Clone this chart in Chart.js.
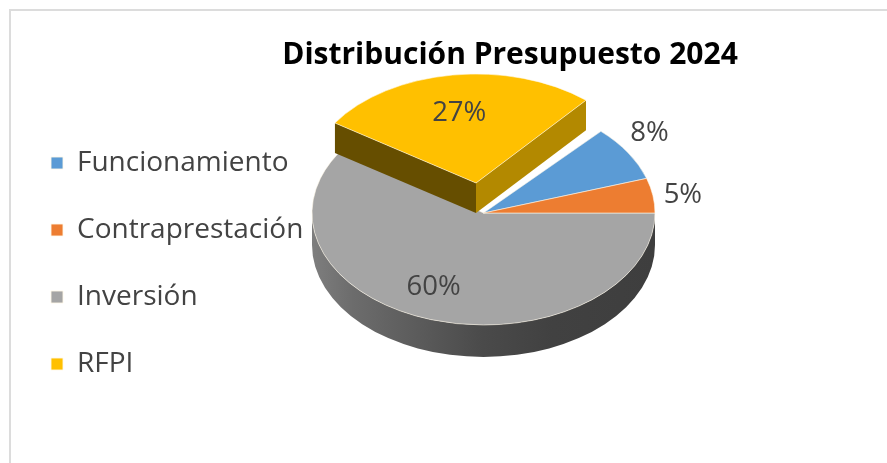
<!DOCTYPE html>
<html lang="es">
<head>
<meta charset="utf-8">
<title>Distribución Presupuesto 2024</title>
<script src="https://cdn.jsdelivr.net/npm/chart.js@4"></script>
<style>
html,body{margin:0;padding:0;background:#fff;overflow:hidden}
#frame{position:absolute;left:9px;top:9px;right:0;bottom:0;border-top:2px solid #dcdcdc;border-left:2px solid #dcdcdc}
canvas{position:absolute;left:0;top:0}
</style>
</head>
<body>
<div id="frame"></div>
<canvas id="c" width="887" height="463"></canvas>
<script>
const titleText = 'Distribución Presupuesto 2024';
const categories = ['Funcionamiento', 'Contraprestación', 'Inversión', 'RFPI'];
const shares = [8, 5, 60, 27];
const colors = ['#5b9bd5', '#ed7d31', '#a5a5a5', '#ffc000'];

// 3D projection of each slice on the page
const mainDisc = {cx: 483.5, cy: 213, rx: 171.5, ry: 112, rot: 0, depth: 32};
const liftedDisc = {cx: 476, cy: 183, rx: 169, ry: 109, rot: -2.6 * Math.PI / 180, depth: 30};
const sliceDiscs = [mainDisc, mainDisc, mainDisc, liftedDisc];
const drawOrder = [2, 0, 1, 3];
// label placement: radial fraction and small nudges
const labelRadial = [1.14, 1.177, 0.66, 0.67];
const labelNudgeX = [1, 0, -15, -1];
const labelNudgeY = [-11, 3, 4, 2];
const labelFont = '27.5px "Open Sans"';
const textColor = '#434343';

function wallGradient(ctx, d) {
  const g = ctx.createLinearGradient(d.cx - d.rx, 0, d.cx + d.rx, 0);
  g.addColorStop(0, '#7e7e7e');
  g.addColorStop(0.12, '#6c6c6c');
  g.addColorStop(0.5, '#4a4a4a');
  g.addColorStop(0.7, '#414141');
  g.addColorStop(1, '#3e3e3e');
  return g;
}
function edgePoint(d, a) {
  return {x: d.cx + d.rx * Math.cos(a + d.rot), y: d.cy + d.ry * Math.sin(a + d.rot)};
}
function quad(ctx, d, a, fill) {
  const p = edgePoint(d, a);
  ctx.beginPath();
  ctx.moveTo(d.cx, d.cy);
  ctx.lineTo(p.x, p.y);
  ctx.lineTo(p.x, p.y + d.depth);
  ctx.lineTo(d.cx, d.cy + d.depth);
  ctx.closePath();
  ctx.fillStyle = fill;
  ctx.fill();
}
const pie3d = {
  id: 'pie3d',
  afterLayout(chart) {
    const t = chart.titleBlock;
    t.left = 133; t.right = 887;
    const h = t.bottom - t.top;
    t.top = 37; t.bottom = t.top + h;
    const l = chart.legend;
    const lh = l.bottom - l.top;
    l.top = 110; l.bottom = l.top + lh;
    l.left = 12;
  },
  beforeDatasetsDraw(chart) {
    const ctx = chart.ctx;
    const arcs = chart.getDatasetMeta(0).data;
    for (const i of drawOrder) {
      const arc = arcs[i];
      const d = sliceDiscs[i];
      ctx.save();
      if (d === mainDisc) {
        const a0 = Math.max(arc.startAngle, 0), a1 = Math.min(arc.endAngle, Math.PI);
        if (a1 > a0) {
          ctx.beginPath();
          ctx.ellipse(d.cx, d.cy, d.rx, d.ry, 0, a0, a1);
          ctx.ellipse(d.cx, d.cy + d.depth, d.rx, d.ry, 0, a1, a0, true);
          ctx.closePath();
          ctx.fillStyle = wallGradient(ctx, d);
          ctx.fill();
        }
      } else {
        quad(ctx, d, arc.startAngle, '#664e00');
        quad(ctx, d, arc.endAngle, '#b38900');
      }
      ctx.translate(d.cx, d.cy);
      ctx.scale(d.rx / arc.outerRadius, d.ry / arc.outerRadius);
      ctx.rotate(d.rot);
      ctx.translate(-arc.x, -arc.y);
      arc.draw(ctx);
      ctx.restore();
    }
    ctx.save();
    ctx.font = labelFont;
    ctx.fillStyle = textColor;
    ctx.textAlign = 'center';
    ctx.textBaseline = 'middle';
    arcs.forEach((arc, i) => {
      const d = sliceDiscs[i];
      const mid = (arc.startAngle + arc.endAngle) / 2 + d.rot;
      const r = labelRadial[i];
      ctx.fillText(shares[i] + '%',
        d.cx + d.rx * r * Math.cos(mid) + labelNudgeX[i],
        d.cy + d.ry * r * Math.sin(mid) + labelNudgeY[i]);
    });
    ctx.restore();
    return false;
  }
};

new Chart(document.getElementById('c'), {
  type: 'pie',
  data: {
    labels: categories,
    datasets: [{
      data: shares,
      backgroundColor: colors,
      borderColor: 'rgba(255,248,232,0.85)',
      borderWidth: 1
    }]
  },
  options: {
    responsive: false,
    animation: false,
    rotation: 43.2,
    layout: {padding: {left: 15}},
    plugins: {
      tooltip: {enabled: false},
      title: {
        display: true,
        text: titleText,
        color: '#000',
        font: {family: '"Open Sans"', size: 30, weight: 'bold', lineHeight: 1.2},
        padding: {top: 0, bottom: 10}
      },
      legend: {
        position: 'left',
        align: 'start',
        labels: {
          boxWidth: 12,
          boxHeight: 12,
          padding: 39,
          color: textColor,
          font: {family: '"Open Sans"', size: 28, lineHeight: 1.15}
        }
      }
    }
  },
  plugins: [pie3d]
});
</script>
</body>
</html>
